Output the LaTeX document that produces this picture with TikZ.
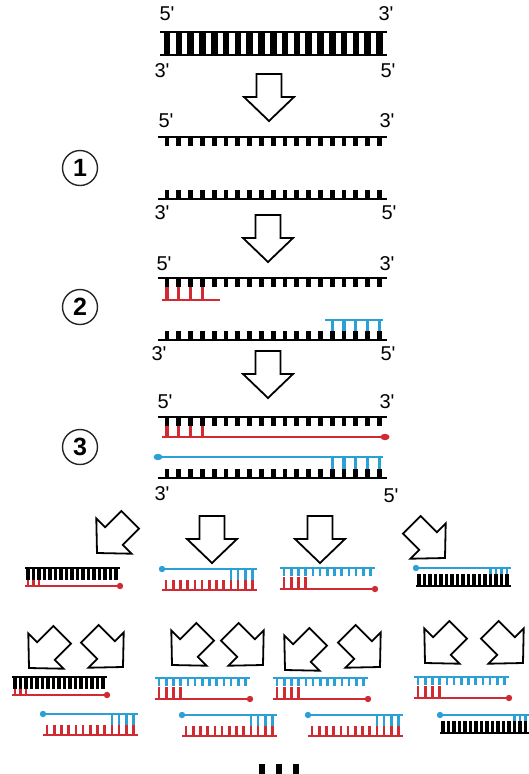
\documentclass[tikz,border=0pt]{standalone}
\usepackage{fontspec}
\setmainfont{Liberation Sans}
\definecolor{prred}{RGB}{208,42,50}
\definecolor{prblue}{RGB}{42,160,214}

% strand end with a straight prime
\newcommand\strandend[1]{#1\textquotesingle}

% n ticks: first centre x, backbone y, count, spacing, signed length, width, colour
\newcommand\sticks[7]{\foreach \i in {1,...,#3}{\fill[#7] ({#1+(\i-1)*#4-#6/2},#2) rectangle ++(#6,#5);}}

% long strand with 19 half rungs: backbone y, signed rung length
\newcommand\bigstrand[2]{%
  \draw[bigline] (158,#1) -- (387,#1);
  \sticks{167}{#1}{19}{11.8}{#2}{4.8}{black}}

% hollow block arrow, tip at (#1,#2), turned by #3 degrees
\newcommand\blockarrow[3]{%
  \draw[arrowline, shift={(#1,#2)}, rotate=#3]
    (0,0) -- (-25,-24) -- (-12.5,-24) -- (-12.5,-47) -- (12.5,-47) -- (12.5,-24) -- (25,-24) -- cycle;}

% coloured template on top, red copy below ending in a dot
\newcommand\redunder[3]{%
  \draw[smallline,#3] (#1,#2) -- ++(95,0);
  \sticks{#1+4}{#2}{13}{7.2}{8}{2.6}{#3}
  \draw[smallline,prred] (#1,#2+21) -- ++(95,0);
  \fill[prred] (#1+95,#2+21) circle (3.2);
  \sticks{#1+4}{#2+21}{4}{7.2}{-12}{2.6}{prred}}

% black template on top, red copy below
\newcommand\blackredunder[2]{%
  \draw[smallline] (#1,#2) -- ++(95,0);
  \sticks{#1+3}{#2}{17}{5.5}{12}{3.4}{black}
  \draw[smallline,prred] (#1,#2+18) -- ++(95,0);
  \fill[prred] (#1+95,#2+18) circle (3.2);
  \sticks{#1+3}{#2+18}{3}{5.5}{-6}{2.4}{prred}}

% blue copy on top (dot at its left end) over a coloured template
\newcommand\blueover[3]{%
  \draw[smallline,prblue] (#1,#2) -- ++(95,0);
  \fill[prblue] (#1,#2) circle (3.2);
  \sticks{#1+68.8}{#2}{4}{7.2}{11}{2.6}{prblue}
  \draw[smallline,#3] (#1,#2+21) -- ++(95,0);
  \sticks{#1+4}{#2+21}{13}{7.2}{-10}{2.6}{#3}}

% blue copy on top over the black template
\newcommand\blueoverblack[2]{%
  \draw[smallline,prblue] (#1,#2) -- ++(95,0);
  \fill[prblue] (#1,#2) circle (3.2);
  \sticks{#1+74.5}{#2}{4}{5.5}{6}{2.4}{prblue}
  \draw[smallline] (#1,#2+18) -- ++(95,0);
  \sticks{#1+3}{#2+18}{17}{5.5}{-12}{3.4}{black}}

\begin{document}
\begin{tikzpicture}[x=1pt,y=-1pt,
  endlabel/.style={font=\fontsize{20}{20}\selectfont, inner sep=0pt},
  steplabel/.style={circle, draw=black!85, line width=1.4pt, minimum size=35pt,
    inner sep=0pt, font=\fontsize{25}{25}\selectfont\bfseries},
  arrowline/.style={draw=black, line width=1.8pt, line join=miter, fill=white},
  bigline/.style={line width=2.6pt},
  smallline/.style={line width=1.5pt},
  primer/.style={line width=2pt}]
\useasboundingbox (0,0) rectangle (528,774);

% double-stranded template
\draw[bigline] (160,32) -- (387,32);
\draw[bigline] (160,55) -- (387,55);
\sticks{167}{32}{19}{11.8}{23}{6.6}{black}
\node[endlabel] (t5a) at (167,14) {\strandend{5}};
\node[endlabel] (t3a) at (386,14) {\strandend{3}};
\node[endlabel] (t3b) at (162,71) {\strandend{3}};
\node[endlabel] (t5b) at (388,71) {\strandend{5}};

\blockarrow{269}{121}{0}

% step 1: melting
\node[steplabel] (s1) at (80,168) {1};
\bigstrand{137}{9}
\bigstrand{199}{-9}
\node[endlabel] (a5) at (166,121) {\strandend{5}};
\node[endlabel] (a3) at (387,121) {\strandend{3}};
\node[endlabel] (a3b) at (162,213) {\strandend{3}};
\node[endlabel] (a5b) at (389,213) {\strandend{5}};

\blockarrow{268}{262}{0}

% step 2: primers bind
\node[steplabel] (s2) at (80,307) {2};
\bigstrand{278}{9}
\bigstrand{340}{-9}
\draw[primer,prred] (162,300) -- (220,300);
\sticks{167}{300}{4}{11.8}{-13}{3.2}{prred}
\draw[primer,prblue] (325,320) -- (383,320);
\sticks{332.2}{320}{5}{11.8}{11}{3.2}{prblue}
\node[endlabel] (b5) at (164,264) {\strandend{5}};
\node[endlabel] (b3) at (387,264) {\strandend{3}};
\node[endlabel] (b3b) at (159,354) {\strandend{3}};
\node[endlabel] (b5b) at (388,354) {\strandend{5}};

\blockarrow{268}{398}{0}

% step 3: extension
\node[steplabel] (s3) at (80,447) {3};
\bigstrand{417}{9}
\bigstrand{478}{-9}
\draw[primer,prred] (162,437) -- (384,437);
\fill[prred] (385,437) ellipse (4.5 and 3.2);
\sticks{167}{437}{4}{11.8}{-11}{3.2}{prred}
\draw[primer,prblue] (159,457) -- (383,457);
\fill[prblue] (158,457) ellipse (4.5 and 3.2);
\sticks{332.2}{457}{5}{11.8}{12}{3.2}{prblue}
\node[endlabel] (c5) at (165,402) {\strandend{5}};
\node[endlabel] (c3) at (387,402) {\strandend{3}};
\node[endlabel] (c3b) at (162,494) {\strandend{3}};
\node[endlabel] (c5b) at (391,496) {\strandend{5}};

% first round of copies
\blockarrow{97}{553}{-45}
\blockarrow{212}{563}{0}
\blockarrow{320}{563}{0}
\blockarrow{445}{558}{45}
\blackredunder{25}{568}
\blueover{162}{569}{prred}
\redunder{280}{568}{prblue}
\blueoverblack{416}{568}

% second round of copies
\blockarrow{29}{668}{-45}
\blockarrow{123}{667}{45}
\blockarrow{172}{665}{-45}
\blockarrow{263}{665}{45}
\blockarrow{285}{670}{-45}
\blockarrow{380}{667}{45}
\blockarrow{425}{663}{-45}
\blockarrow{523}{663}{45}
\blackredunder{12}{677}
\blueover{43}{714}{prred}
\redunder{155}{678}{prblue}
\blueover{182}{715}{prred}
\redunder{273}{678}{prblue}
\blueover{308}{715}{prred}
\redunder{414}{677}{prblue}
\blueoverblack{440}{715}

% and so on
\fill (259,764) rectangle ++(6,12);
\fill (276,764) rectangle ++(6,12);
\fill (293,764) rectangle ++(6,12);
\end{tikzpicture}
\end{document}
